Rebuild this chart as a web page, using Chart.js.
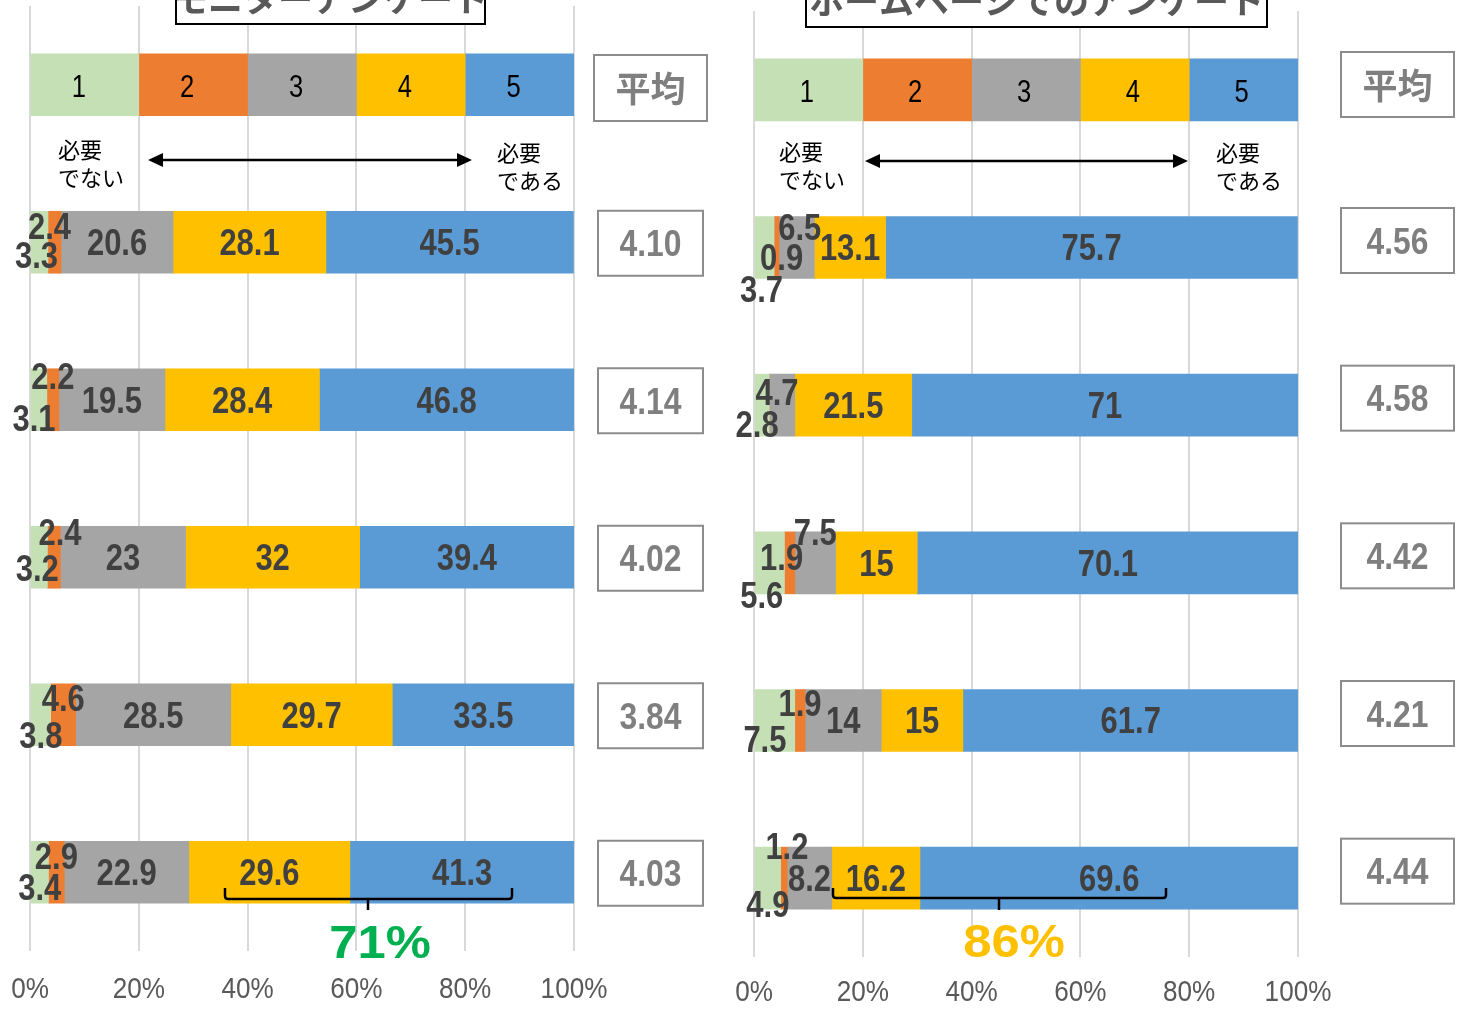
<!DOCTYPE html>
<html>
<head>
<meta charset="utf-8">
<script src="https://cdn.jsdelivr.net/npm/chart.js@4.4.1/dist/chart.umd.min.js"></script>
<style>
  html, body { margin: 0; padding: 0; background: #fff; overflow: hidden; }
  .panel { position: absolute; top: 0; width: 730px; height: 1010px; }
  #left { left: 0; }
  #right { left: 730px; }
</style>
</head>
<body>
<div class="panel" id="left"><canvas id="chartLeft"></canvas></div>
<div class="panel" id="right"><canvas id="chartRight"></canvas></div>
<script>
// rating scale 1..5 and the key bar on top
const ratingLabels = ['1', '2', '3', '4', '5'];
const keyRow = [20, 20, 20, 20, 20];
const rowLabels = ['key', 'q1', 'q2', 'q3', 'q4', 'q5'];
const tickLabels = ['0%', '20%', '40%', '60%', '80%', '100%'];
const panelTitles = ['モニターアンケート', 'ホームページでのアンケート'];
const shareLabels = ['71%', '86%'];
const lowEnd = ['必要', 'でない'];
const highEnd = ['必要', 'である'];
const averageHeader = '平均';

// モニターアンケート (%)
const monitorScore1 = [3.3, 3.1, 3.2, 3.8, 3.4];
const monitorScore2 = [2.4, 2.2, 2.4, 4.6, 2.9];
const monitorScore3 = [20.6, 19.5, 23, 28.5, 22.9];
const monitorScore4 = [28.1, 28.4, 32, 29.7, 29.6];
const monitorScore5 = [45.5, 46.8, 39.4, 33.5, 41.3];
const monitorAverages = ['4.10', '4.14', '4.02', '3.84', '4.03'];

// ホームページでのアンケート (%)
const webScore1 = [3.7, 2.8, 5.6, 7.5, 4.9];
const webScore2 = [0.9, 0, 1.9, 1.9, 1.2];
const webScore3 = [6.5, 4.7, 7.5, 14, 8.2];
const webScore4 = [13.1, 21.5, 15, 15, 16.2];
const webScore5 = [75.7, 71, 70.1, 61.7, 69.6];
const webAverages = ['4.56', '4.58', '4.42', '4.21', '4.44'];

const colors = ['#C5E0B4', '#ED7D31', '#A5A5A5', '#FFC000', '#5B9BD5'];

// hand-moved labels of the thin segments: "row-segment": [dx, dy]
const monitorNudge = {
  '1-0': [-3, 13], '1-1': [-5, -16],
  '2-0': [-5, 18], '2-1': [0, -24],
  '3-0': [-2, 11], '3-1': [6, -25],
  '4-0': [0, 20], '4-1': [0, -17],
  '5-0': [0, 15], '5-1': [0, -16]
};
const webNudge = {
  '1-0': [-3, 42], '1-1': [5, 10], '1-2': [3, -20],
  '2-0': [-5, 19], '2-2': [-5, -13],
  '3-0': [-8, 32], '3-1': [-8, -6], '3-2': [0, -31],
  '4-0': [-10, 19], '4-1': [0, -17],
  '5-0': [0, 26], '5-1': [3, -32]
};

const NUM = '"Liberation Sans", Arial, sans-serif';
const JP = '"Noto Sans CJK JP", sans-serif';

const panels = [
  {
    id: 'chartLeft', title: panelTitles[0], nudges: monitorNudge,
    scores: [monitorScore1, monitorScore2, monitorScore3, monitorScore4, monitorScore5],
    averages: monitorAverages, share: shareLabels[0], shareColor: '#00B050',
    pad: { left: 30, right: 156, top: 6, bottom: 59 }, keyDx: -6,
    titleBox: [176, 485, 24], titleBase: 12,
    avgBox: [598, 703], avgHead: [594, 707, 55, 121], avgDy: 1,
    arrow: [148, 472, 160], endText: [58, 497, 150, 153],
    brace: [225, 512, 368, 888, 899, 910], shareXY: [380, 943], tickY: 990
  },
  {
    id: 'chartRight', title: panelTitles[1], nudges: webNudge,
    scores: [webScore1, webScore2, webScore3, webScore4, webScore5],
    averages: webAverages, share: shareLabels[1], shareColor: '#FFC000',
    pad: { left: 24, right: 162, top: 11, bottom: 53 }, keyDx: -2,
    titleBox: [76, 537, 27], titleBase: 14,
    avgBox: [611, 724], avgHead: [611, 724, 52, 117], avgDy: -7,
    arrow: [135, 458, 161], endText: [49, 486, 152, 153],
    brace: [103, 436, 269, 888, 898, 910], shareXY: [284, 942], tickY: 993
  }
];

function txt(ctx, s, x, y, font, color, sx, align) {
  ctx.save();
  ctx.translate(x, y);
  ctx.scale(sx, 1);
  ctx.font = font;
  ctx.fillStyle = color;
  ctx.textAlign = align || 'center';
  ctx.textBaseline = 'middle';
  ctx.fillText(s, 0, 0);
  ctx.restore();
}

function makeChart(p) {
  const labelPlugin = {
    id: 'labels',
    afterDatasetsDraw(chart) {
      const ctx = chart.ctx;
      chart.data.datasets.forEach((ds, k) => {
        chart.getDatasetMeta(k).data.forEach((bar, i) => {
          const v = ds.data[i];
          if (!v) return;
          const { x, base, y } = bar.getProps(['x', 'base', 'y'], true);
          const cx = (x + base) / 2;
          if (i === 0) {
            txt(ctx, ratingLabels[k], cx + p.keyDx, y + 3, '32px ' + NUM, '#000', 0.8);
            return;
          }
          const n = p.nudges[i + '-' + k] || [0, 0];
          txt(ctx, String(v), cx + n[0], y + n[1] + 3, 'bold 36px ' + NUM, '#404040', 0.86);
        });
      });
    },
    afterDraw(chart) {
      const ctx = chart.ctx;
      const xs = chart.scales.x, ys = chart.scales.y;

      // axis tick labels
      xs.ticks.forEach((t, i) => {
        txt(ctx, tickLabels[i], xs.getPixelForTick(i), p.tickY, '30px ' + NUM, '#595959', 0.87);
      });

      // title box (cut by the top edge)
      const [tl, tr, tb] = p.titleBox;
      ctx.save();
      ctx.fillStyle = '#fff';
      ctx.fillRect(tl, -10, tr - tl, tb + 10);
      ctx.strokeStyle = '#000';
      ctx.lineWidth = 2;
      ctx.strokeRect(tl, -10, tr - tl, tb + 10);
      ctx.font = 'bold 35px ' + JP;
      ctx.fillStyle = '#595959';
      ctx.textAlign = 'center';
      ctx.textBaseline = 'alphabetic';
      ctx.fillText(p.title, (tl + tr) / 2, p.titleBase);
      ctx.restore();

      // arrow with the two ends
      const [ax1, ax2, ay] = p.arrow;
      ctx.save();
      ctx.strokeStyle = '#000';
      ctx.fillStyle = '#000';
      ctx.lineWidth = 2.5;
      ctx.beginPath();
      ctx.moveTo(ax1 + 10, ay);
      ctx.lineTo(ax2 - 10, ay);
      ctx.stroke();
      ctx.beginPath();
      ctx.moveTo(ax1, ay); ctx.lineTo(ax1 + 15, ay - 7); ctx.lineTo(ax1 + 15, ay + 7); ctx.closePath();
      ctx.moveTo(ax2, ay); ctx.lineTo(ax2 - 15, ay - 7); ctx.lineTo(ax2 - 15, ay + 7); ctx.closePath();
      ctx.fill();
      ctx.restore();
      const [ex1, ex2, ey1, ey2] = p.endText;
      lowEnd.forEach((s, j) => txt(ctx, s, ex1, ey1 + j * 28, '22px ' + JP, '#000', 1, 'left'));
      highEnd.forEach((s, j) => txt(ctx, s, ex2, ey2 + j * 28, '22px ' + JP, '#000', 1, 'left'));

      // average boxes
      ctx.save();
      ctx.strokeStyle = '#8C8C8C';
      ctx.lineWidth = 2;
      const [hl, hr, ht, hb] = p.avgHead;
      ctx.strokeRect(hl, ht, hr - hl, hb - ht);
      ctx.restore();
      txt(ctx, averageHeader, (hl + hr) / 2, (ht + hb) / 2 + 1, 'bold 35px ' + JP, '#7F7F7F', 1);
      const [bl, br] = p.avgBox;
      p.averages.forEach((a, i) => {
        const cy = ys.getPixelForValue(i + 1) + p.avgDy;
        ctx.save();
        ctx.strokeStyle = '#8C8C8C';
        ctx.lineWidth = 2;
        ctx.strokeRect(bl, cy - 32.5, br - bl, 65);
        ctx.restore();
        txt(ctx, a, (bl + br) / 2, cy + 3, 'bold 37px ' + NUM, '#7F7F7F', 0.86);
      });

      // brace and share of 4+5
      const [b1, b2, bc, btop, bmid, bbot] = p.brace;
      ctx.save();
      ctx.strokeStyle = '#000';
      ctx.lineWidth = 2.5;
      ctx.lineJoin = 'round';
      ctx.beginPath();
      ctx.moveTo(b1, btop);
      ctx.lineTo(b1, bmid - 3);
      ctx.quadraticCurveTo(b1, bmid, b1 + 3, bmid);
      ctx.lineTo(b2 - 3, bmid);
      ctx.quadraticCurveTo(b2, bmid, b2, bmid - 3);
      ctx.lineTo(b2, btop);
      ctx.moveTo(bc, bmid);
      ctx.lineTo(bc, bbot);
      ctx.stroke();
      ctx.restore();
      txt(ctx, p.share, p.shareXY[0], p.shareXY[1] + 2, 'bold 47px ' + NUM, p.shareColor, 1.08);
    }
  };

  return new Chart(document.getElementById(p.id), {
    type: 'bar',
    data: {
      labels: rowLabels,
      datasets: p.scores.map((s, k) => ({
        label: ratingLabels[k],
        data: [keyRow[k]].concat(s),
        backgroundColor: colors[k],
        borderWidth: 0,
        barThickness: 62
      }))
    },
    options: {
      indexAxis: 'y',
      responsive: true,
      maintainAspectRatio: false,
      animation: false,
      devicePixelRatio: 1,
      layout: { padding: p.pad },
      plugins: { legend: { display: false }, tooltip: { enabled: false } },
      scales: {
        x: {
          stacked: true, min: 0, max: 100,
          ticks: { stepSize: 20, display: false },
          grid: { color: '#D9D9D9', lineWidth: 2, drawTicks: false },
          border: { display: false }
        },
        y: { stacked: true, display: false }
      }
    },
    plugins: [labelPlugin]
  });
}

panels.forEach(makeChart);
</script>
</body>
</html>
